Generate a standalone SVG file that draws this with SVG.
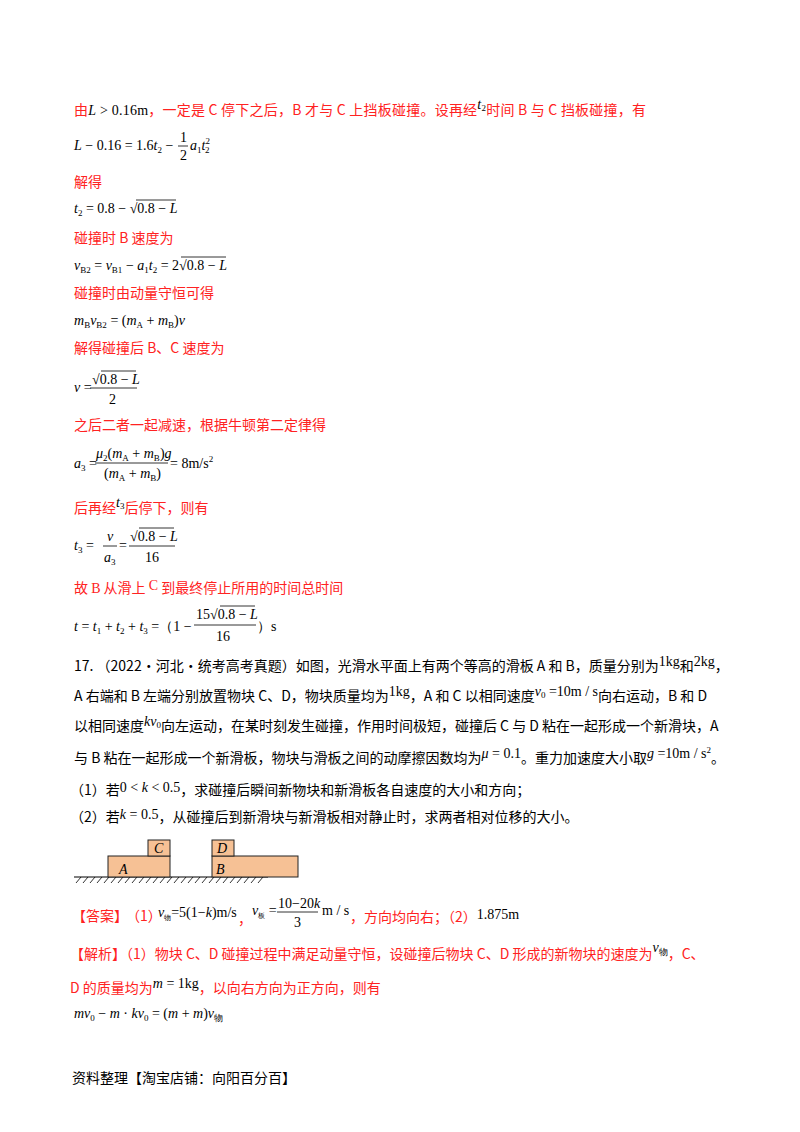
<svg xmlns="http://www.w3.org/2000/svg" width="800" height="1132" viewBox="0 0 800 1132">
<style>
text{font-family:"Liberation Serif","Noto Sans CJK SC",serif;font-size:14px;fill:#000}
.r{fill:#f22;font-family:"Noto Sans CJK SC","Liberation Sans",sans-serif;font-size:14px}
.k{font-family:"Noto Sans CJK SC","Liberation Serif",serif;font-size:14px}
.m{font-family:"Liberation Serif",serif;font-size:14px}
.i{font-style:italic}
.s{font-size:9px}
.bx{fill:#f6c195;stroke:#222;stroke-width:1}
.ln{stroke:#000;stroke-width:0.8;fill:none}
</style>
<rect width="800" height="1132" fill="#fff"/>
<g id="solution">
<text x="74" y="115" class="r" textLength="572">由<tspan class="m i" fill="#000">L</tspan><tspan class="m" fill="#000"> &gt; 0.16m</tspan>，一定是 C 停下之后，B 才与 C 上挡板碰撞。设再经<tspan class="m i" fill="#000" dy="-6">t</tspan><tspan class="m s" fill="#000" dy="2">2</tspan><tspan dy="4">时间 B 与 C 挡板碰撞，有</tspan></text>
<text x="74" y="150" class="m"><tspan class="i">L</tspan> − 0.16 = 1.6<tspan class="i">t</tspan><tspan class="s" dy="3">2</tspan><tspan dy="-3"> −</tspan></text>
<text x="180" y="142" class="m" font-size="12">1</text><line x1="178" y1="146" x2="188" y2="146" class="ln"/><text x="180" y="160" class="m" font-size="12">2</text>
<text x="190" y="150" class="m"><tspan class="i">a</tspan><tspan class="s" dy="3">1</tspan><tspan class="i" dy="-3">t</tspan><tspan class="s" dy="-6">2</tspan><tspan class="s" dx="-5" dy="9">2</tspan></text>
<text x="74" y="187" class="r">解得</text>
<text x="74" y="213" class="m"><tspan class="i">t</tspan><tspan class="s" dy="3">2</tspan><tspan dy="-3"> = 0.8 − √0.8 − </tspan><tspan class="i">L</tspan></text>
<line x1="136" y1="200" x2="176" y2="200" class="ln"/>
<text x="74" y="243" class="r">碰撞时 B 速度为</text>
<text x="74" y="270" class="m"><tspan class="i">v</tspan><tspan class="s" dy="3">B2</tspan><tspan dy="-3"> = </tspan><tspan class="i">v</tspan><tspan class="s" dy="3">B1</tspan><tspan dy="-3"> − </tspan><tspan class="i">a</tspan><tspan class="s" dy="3">1</tspan><tspan class="i" dy="-3">t</tspan><tspan class="s" dy="3">2</tspan><tspan dy="-3"> = 2√0.8 − </tspan><tspan class="i">L</tspan></text>
<line x1="181" y1="257" x2="226" y2="257" class="ln"/>
<text x="74" y="298" class="r">碰撞时由动量守恒可得</text>
<text x="74" y="325" class="m"><tspan class="i">m</tspan><tspan class="s" dy="3">B</tspan><tspan class="i" dy="-3">v</tspan><tspan class="s" dy="3">B2</tspan><tspan dy="-3"> = (</tspan><tspan class="i">m</tspan><tspan class="s" dy="3">A</tspan><tspan dy="-3"> + </tspan><tspan class="i">m</tspan><tspan class="s" dy="3">B</tspan><tspan dy="-3">)</tspan><tspan class="i">v</tspan></text>
<text x="74" y="353" class="r">解得碰撞后 B、C 速度为</text>
<text x="74" y="392" class="m"><tspan class="i">v</tspan> =</text>
<text x="92" y="384" class="m">√0.8 − <tspan class="i">L</tspan></text>
<line x1="101" y1="371" x2="136" y2="371" class="ln"/>
<line x1="90" y1="388" x2="137" y2="388" class="ln"/>
<text x="109" y="404" class="m">2</text>
<text x="74" y="430" class="r">之后二者一起减速，根据牛顿第二定律得</text>
<text x="74" y="468" class="m"><tspan class="i">a</tspan><tspan class="s" dy="3">3</tspan><tspan dy="-3"> =</tspan></text>
<text x="96" y="458" class="m"><tspan class="i">μ</tspan><tspan class="s" dy="3">2</tspan><tspan dy="-3">(</tspan><tspan class="i">m</tspan><tspan class="s" dy="3">A</tspan><tspan dy="-3"> + </tspan><tspan class="i">m</tspan><tspan class="s" dy="3">B</tspan><tspan dy="-3">)</tspan><tspan class="i">g</tspan></text>
<line x1="95" y1="463" x2="168" y2="463" class="ln"/>
<text x="104" y="478" class="m">(<tspan class="i">m</tspan><tspan class="s" dy="3">A</tspan><tspan dy="-3"> + </tspan><tspan class="i">m</tspan><tspan class="s" dy="3">B</tspan><tspan dy="-3">)</tspan></text>
<text x="170" y="468" class="m">= 8m/s<tspan class="s" dy="-6">2</tspan></text>
<text x="74" y="513" class="r">后再经<tspan class="m i" fill="#000" dy="-6">t</tspan><tspan class="m s" fill="#000" dy="2">3</tspan><tspan dy="4">后停下，则有</tspan></text>
<text x="74" y="550" class="m"><tspan class="i">t</tspan><tspan class="s" dy="3">3</tspan><tspan dy="-3"> =</tspan></text>
<text x="107" y="541" class="m i">v</text><line x1="103" y1="546" x2="117" y2="546" class="ln"/><text x="104" y="562" class="m"><tspan class="i">a</tspan><tspan class="s" dy="3">3</tspan></text>
<text x="119" y="550" class="m">=</text>
<text x="130" y="541" class="m">√0.8 − <tspan class="i">L</tspan></text>
<line x1="139" y1="528" x2="174" y2="528" class="ln"/>
<line x1="129" y1="546" x2="175" y2="546" class="ln"/>
<text x="145" y="562" class="m">16</text>
<text x="74" y="593" class="r">故 <tspan class="m" font-size="15">B</tspan> 从滑上 <tspan class="m" font-size="17" dy="-3">C</tspan><tspan dy="3"> 到最终停止所用的时间总时间</tspan></text>
<text x="74" y="631" class="m"><tspan class="i">t</tspan> = <tspan class="i">t</tspan><tspan class="s" dy="3">1</tspan><tspan dy="-3"> + </tspan><tspan class="i">t</tspan><tspan class="s" dy="3">2</tspan><tspan dy="-3"> + </tspan><tspan class="i">t</tspan><tspan class="s" dy="3">3</tspan><tspan dy="-3"> =（1 −</tspan></text>
<text x="196" y="619" class="m">15√0.8 − <tspan class="i">L</tspan></text>
<line x1="220" y1="606" x2="255" y2="606" class="ln"/>
<line x1="194" y1="625" x2="256" y2="625" class="ln"/>
<text x="216" y="641" class="m">16</text>
<text x="257" y="631" class="m">）s</text>
</g>
<g id="problem">
<text x="74" y="671" class="k">17.  （2022·河北·统考高考真题）如图，光滑水平面上有两个等高的滑板 A 和 B，质量分别为<tspan class="m" dy="-5">1kg</tspan><tspan dy="5">和</tspan><tspan class="m" dy="-5">2kg</tspan><tspan dy="5">，</tspan></text>
<text x="74" y="701" class="k">A 右端和 B 左端分别放置物块 C、D，物块质量均为<tspan class="m" dy="-5">1kg</tspan><tspan dy="5">，A 和 C 以相同速度</tspan><tspan class="m i" dy="-5" font-size="11">v</tspan><tspan class="m s" dy="2">0</tspan><tspan class="m" dy="-2"> =10m / s</tspan><tspan dy="5">向右运动，B 和 D</tspan></text>
<text x="74" y="731" class="k">以相同速度<tspan class="m i" dy="-5" font-size="11">kv</tspan><tspan class="m s" dy="2">0</tspan><tspan dy="3">向左运动，在某时刻发生碰撞，作用时间极短，碰撞后 C 与 D 粘在一起形成一个新滑块，A</tspan></text>
<text x="74" y="763" class="k">与 B 粘在一起形成一个新滑板，物块与滑板之间的动摩擦因数均为<tspan class="m" dy="-5" font-size="11"><tspan class="i">μ</tspan> = 0.1</tspan><tspan dy="5">。重力加速度大小取</tspan><tspan class="m" dy="-5"><tspan class="i">g</tspan> =10m / s<tspan class="s" dy="-5">2</tspan></tspan><tspan dy="10">。</tspan></text>
<text x="70" y="795" class="k">（1）若<tspan class="m" dy="-3">0 &lt; <tspan class="i">k</tspan> &lt; 0.5</tspan><tspan dy="3">，求碰撞后瞬间新物块和新滑板各自速度的大小和方向；</tspan></text>
<text x="70" y="822" class="k">（2）若<tspan class="m" dy="-3"><tspan class="i">k</tspan> = 0.5</tspan><tspan dy="3">，从碰撞后到新滑块与新滑板相对静止时，求两者相对位移的大小。</tspan></text>
</g>
<g id="figure">
<line x1="74" y1="877" x2="268" y2="877" stroke="#000" stroke-width="1.2"/>
<path d="M76 883l5-6M83 883l5-6M90 883l5-6M97 883l5-6M104 883l5-6M111 883l5-6M118 883l5-6M125 883l5-6M132 883l5-6M139 883l5-6M146 883l5-6M153 883l5-6M160 883l5-6M167 883l5-6M174 883l5-6M181 883l5-6M188 883l5-6M195 883l5-6M202 883l5-6M209 883l5-6M216 883l5-6M223 883l5-6M230 883l5-6M237 883l5-6M244 883l5-6M251 883l5-6M258 883l5-6" stroke="#000" stroke-width="0.8"/>
<rect x="108" y="856" width="62" height="21" class="bx"/>
<rect x="148" y="840" width="22" height="16" class="bx"/>
<rect x="212" y="856" width="86" height="21" class="bx"/>
<rect x="212" y="840" width="22" height="16" class="bx"/>
<text x="119" y="874" class="m i">A</text>
<text x="154" y="853" class="m i">C</text>
<text x="216" y="874" class="m i">B</text>
<text x="217" y="853" class="m i">D</text>
</g>
<g id="answer">
<text x="72" y="921" class="r" font-size="13">【答案】</text>
<text x="126" y="921" class="r" font-size="10">（1）</text>
<text x="158" y="917" class="m" font-size="12"><tspan class="i">v</tspan><tspan font-size="7" dy="3">物</tspan><tspan dy="-3">=5(1−<tspan class="i">k</tspan>)m/s</tspan></text>
<text x="238" y="924" class="r">，</text>
<text x="252" y="915" class="m" font-size="12"><tspan class="i">v</tspan><tspan font-size="7" dy="3">板</tspan><tspan dy="-3"> =</tspan></text>
<text x="278" y="908" class="m" font-size="12">10−20<tspan class="i">k</tspan></text>
<line x1="277" y1="912" x2="318" y2="912" class="ln"/>
<text x="294" y="927" class="m" font-size="13">3</text>
<text x="322" y="915" class="m" font-size="13">m / s</text>
<text x="350" y="922" class="r">，方向均向右；（2）<tspan class="m" fill="#000" dy="-3">1.875m</tspan></text>
<text x="70" y="959" class="r">【解析】（1）物块 C、D 碰撞过程中满足动量守恒，设碰撞后物块 C、D 形成的新物块的速度为<tspan class="m i" fill="#000" font-size="12" dy="-7">v</tspan><tspan class="m s" fill="#000" dy="3">物</tspan><tspan dy="4">，C、</tspan></text>
<text x="70" y="993" class="r">D 的质量均为<tspan class="m" fill="#000" dy="-5"><tspan class="i">m</tspan> = 1kg</tspan><tspan dy="5">，以向右方向为正方向，则有</tspan></text>
<text x="74" y="1018" class="m"><tspan class="i">mv</tspan><tspan class="s" dy="3">0</tspan><tspan dy="-3"> − <tspan class="i">m</tspan> · <tspan class="i">kv</tspan></tspan><tspan class="s" dy="3">0</tspan><tspan dy="-3"> = (<tspan class="i">m</tspan> + <tspan class="i">m</tspan>)<tspan class="i">v</tspan></tspan><tspan class="s" dy="3">物</tspan></text>
</g>
<text x="72" y="1083" class="k" font-size="13">资料整理【淘宝店铺：向阳百分百】</text>
</svg>
